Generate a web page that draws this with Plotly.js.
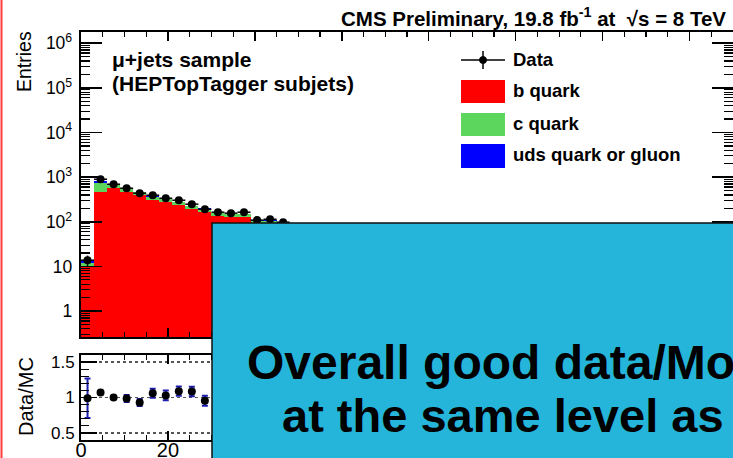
<!DOCTYPE html>
<html>
<head>
<meta charset="utf-8">
<script src="https://cdn.plot.ly/plotly-3.0.1.min.js"></script>
<style>
  html, body { margin: 0; padding: 0; background: #fff; }
  #chart { width: 733px; height: 458px; }
</style>
</head>
<body>
<div id="chart"></div>
<script>
// Subjet b-tag discriminator distribution, mu+jets, HEPTopTagger subjets
const binCenter = [1.5, 4.5, 7.5, 10.5, 13.5, 16.5, 19.5, 22.5, 25.5, 28.5, 31.5, 34.5, 37.5, 40.5, 43.5, 46.5];
const binWidth = 3;

// Simulated flavour composition (stacked)
const bQuark   = [9.6, 460, 575, 475, 390, 310, 272, 233, 191, 167, 134, 125, 125, 90, 90, 79];
const cQuark   = [2.3, 280, 105, 88, 72, 55, 49, 41, 34, 29, 23, 22, 22, 16, 16, 14];
const udsGluon = [2.1, 99, 14, 11, 8, 7, 6, 5, 4, 4, 3, 3, 3, 2, 2, 2];

// Observed data
const dataCounts = [13.8, 898, 694, 565, 437, 394, 337, 304, 248, 191, 164, 156, 164, 109, 114, 98];
const dataErr    = [3.7, 30, 26, 24, 21, 20, 18, 17, 16, 14, 13, 12.5, 13, 10.4, 10.7, 9.9];

// Data/MC ratio
const ratioCenter = binCenter.slice(0, 10);
const ratio    = [0.99, 1.07, 1.0, 0.985, 0.93, 1.06, 1.03, 1.09, 1.085, 0.955];
const ratioErr = [0.28, 0.025, 0.025, 0.05, 0.05, 0.065, 0.068, 0.066, 0.066, 0.07];

const seriesNames  = ['b quark', 'c quark', 'uds quark or gluon'];
const seriesColors = ['#ff0000', '#5cd65c', '#0000ff'];

const W = 733, H = 458, L = 81;
const fx = X => (X - L) / (W - L);
const fy = Y => (H - Y) / H;
const FONT = 'Liberation Sans, Arial, Helvetica, sans-serif';

const stacks = [bQuark, cQuark, udsGluon].map((vals, i) => ({
  type: 'bar', x: binCenter, y: vals, width: binWidth,
  name: seriesNames[i], marker: { color: seriesColors[i], line: { width: 0 } },
  xaxis: 'x', yaxis: 'y', hoverinfo: 'skip'
}));

const dataTrace = {
  type: 'scatter', mode: 'markers', x: binCenter, y: dataCounts, name: 'Data',
  marker: { color: '#000', size: 8 },
  error_x: { type: 'constant', value: binWidth / 2, color: '#000', thickness: 1.5, width: 0 },
  error_y: { type: 'data', array: dataErr, color: '#000', thickness: 1.5, width: 0 },
  xaxis: 'x', yaxis: 'y'
};

const ratioTrace = {
  type: 'scatter', mode: 'markers', x: ratioCenter, y: ratio,
  marker: { color: '#000', size: 8 },
  error_y: { type: 'data', array: ratioErr, color: '#1c1cb0', thickness: 2, width: 3 },
  xaxis: 'x2', yaxis: 'y2'
};

const frame = { showline: true, linecolor: '#000', linewidth: 2, mirror: 'allticks', zeroline: false, showgrid: false };

const xCommon = Object.assign({}, frame, {
  range: [0, 150], tick0: 0, dtick: 20, ticks: 'inside', ticklen: 9, tickwidth: 1.5, tickcolor: '#000',
  minor: { ticks: 'inside', ticklen: 5, dtick: 5, tickwidth: 1.2, tickcolor: '#000' }
});

const layout = {
  width: W, height: H,
  margin: { l: L, r: 0, t: 0, b: 0, pad: 0 },
  paper_bgcolor: '#fff', plot_bgcolor: '#fff',
  font: { family: FONT, color: '#000' },
  barmode: 'stack', bargap: 0, showlegend: false,
  xaxis: Object.assign({}, xCommon, { domain: [0, 1], anchor: 'y', showticklabels: false }),
  yaxis: Object.assign({}, frame, {
    type: 'log', domain: [fy(337), fy(32)], range: [-0.58, 6.25], anchor: 'x',
    tick0: 0, dtick: 1, exponentformat: 'power', tickfont: { size: 14, family: FONT },
    ticks: 'inside', ticklen: 21, tickwidth: 1.5, tickcolor: '#000', ticklabelstandoff: 4,
    minor: { ticks: 'inside', ticklen: 9, dtick: 'D1', tickwidth: 1.2, tickcolor: '#000' }
  }),
  xaxis2: Object.assign({}, xCommon, { domain: [0, 1], anchor: 'y2', matches: 'x', showticklabels: true,
    tickfont: { size: 20, family: FONT }, ticklabelstandoff: -9 }),
  yaxis2: Object.assign({}, frame, {
    domain: [fy(440), fy(355)], range: [0.4, 1.6], anchor: 'x2',
    tick0: 0, dtick: 0.5, tickfont: { size: 17, family: FONT },
    ticks: 'inside', ticklen: 16, tickwidth: 1.5, tickcolor: '#000', ticklabelstandoff: 1,
    showgrid: true, gridcolor: '#555', gridwidth: 1.3, griddash: 'dot',
    minor: { ticks: 'inside', ticklen: 8, dtick: 0.1, tickwidth: 1.2, tickcolor: '#000' }
  }),
  shapes: [
    // left page rule
    { type: 'line', xref: 'paper', yref: 'paper', x0: fx(1.5), x1: fx(1.5), y0: 0, y1: 1,
      line: { color: '#ff3b3b', width: 2 } },
    // legend symbols
    { type: 'line', xref: 'paper', yref: 'paper', x0: fx(461), x1: fx(505), y0: fy(60), y1: fy(60), line: { color: '#000', width: 1.5 } },
    { type: 'line', xref: 'paper', yref: 'paper', x0: fx(483), x1: fx(483), y0: fy(51), y1: fy(69), line: { color: '#000', width: 1.5 } },
    { type: 'circle', xref: 'paper', yref: 'paper', x0: fx(479.5), x1: fx(486.5), y0: fy(56.5), y1: fy(63.5), fillcolor: '#000', line: { color: '#000', width: 1 } },
    { type: 'rect', xref: 'paper', yref: 'paper', x0: fx(461), x1: fx(505), y0: fy(103), y1: fy(80), fillcolor: seriesColors[0], line: { width: 0 } },
    { type: 'rect', xref: 'paper', yref: 'paper', x0: fx(461), x1: fx(505), y0: fy(136), y1: fy(113), fillcolor: seriesColors[1], line: { width: 0 } },
    { type: 'rect', xref: 'paper', yref: 'paper', x0: fx(461), x1: fx(505), y0: fy(168), y1: fy(144), fillcolor: seriesColors[2], line: { width: 0 } },
    // callout panel
    { type: 'rect', xref: 'paper', yref: 'paper', x0: fx(212), x1: fx(760), y0: fy(480), y1: fy(223),
      fillcolor: '#26b5da', line: { color: '#111', width: 1.5 } }
  ],
  annotations: [
    { xref: 'paper', yref: 'paper', x: fx(728), y: fy(17), xanchor: 'right', yanchor: 'middle', showarrow: false,
      text: 'CMS Preliminary, 19.8 fb<sup>-1</sup> at\u00a0\u00a0\u221as = 8 TeV', font: { size: 20.5, family: FONT, weight: 'bold' } },
    { xref: 'paper', yref: 'paper', x: fx(24), y: fy(62), xanchor: 'center', yanchor: 'middle', showarrow: false, textangle: -90,
      text: 'Entries', font: { size: 19.5, family: FONT } },
    { xref: 'paper', yref: 'paper', x: fx(26), y: fy(397), xanchor: 'center', yanchor: 'middle', showarrow: false, textangle: -90,
      text: 'Data/MC', font: { size: 20, family: FONT } },
    { xref: 'paper', yref: 'paper', x: fx(110), y: fy(60), xanchor: 'left', yanchor: 'middle', showarrow: false,
      text: '\u03bc+jets sample', font: { size: 21, family: FONT, weight: 'bold' } },
    { xref: 'paper', yref: 'paper', x: fx(110), y: fy(83), xanchor: 'left', yanchor: 'middle', showarrow: false,
      text: '(HEPTopTagger subjets)', font: { size: 21, family: FONT, weight: 'bold' } },
    { xref: 'paper', yref: 'paper', x: fx(511), y: fy(60), xanchor: 'left', yanchor: 'middle', showarrow: false,
      text: 'Data', font: { size: 18.5, family: FONT, weight: 'bold' } },
    { xref: 'paper', yref: 'paper', x: fx(511), y: fy(91), xanchor: 'left', yanchor: 'middle', showarrow: false,
      text: seriesNames[0], font: { size: 18.5, family: FONT, weight: 'bold' } },
    { xref: 'paper', yref: 'paper', x: fx(511), y: fy(124), xanchor: 'left', yanchor: 'middle', showarrow: false,
      text: seriesNames[1], font: { size: 18.5, family: FONT, weight: 'bold' } },
    { xref: 'paper', yref: 'paper', x: fx(511), y: fy(155), xanchor: 'left', yanchor: 'middle', showarrow: false,
      text: seriesNames[2], font: { size: 18.5, family: FONT, weight: 'bold' } },
    { xref: 'paper', yref: 'paper', x: fx(245), y: fy(362), xanchor: 'left', yanchor: 'middle', showarrow: false,
      text: 'Overall good data/Mo', font: { size: 48, family: FONT, weight: 'bold', color: '#000' } },
    { xref: 'paper', yref: 'paper', x: fx(280), y: fy(415), xanchor: 'left', yanchor: 'middle', showarrow: false,
      text: 'at the same level as', font: { size: 47, family: FONT, weight: 'bold', color: '#000' } }
  ]
};

Plotly.newPlot('chart', stacks.concat([dataTrace, ratioTrace]), layout, { staticPlot: true, displayModeBar: false });
</script>
</body>
</html>
